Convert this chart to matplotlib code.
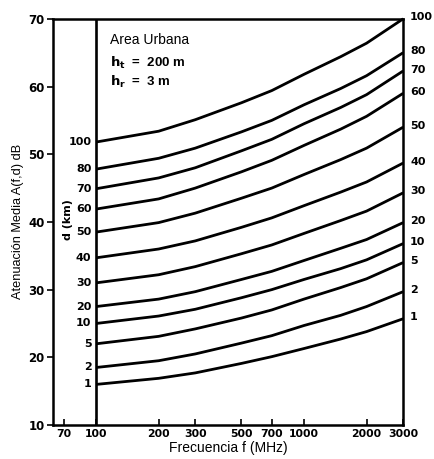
import matplotlib
matplotlib.use('Agg')
import matplotlib.pyplot as plt
from matplotlib.ticker import FixedLocator, NullLocator, NullFormatter

plt.rcParams['font.family'] = ['Liberation Sans', 'DejaVu Sans']

# frecuencias leidas (MHz) y atenuacion media (dB) para cada distancia d (km)
freq = [100, 200, 300, 500, 700, 1000, 1500, 2000, 3000]
dist = [1, 2, 5, 10, 20, 30, 40, 50, 60, 70, 80, 100]
atten = {
    100: [51.8, 53.4, 55.1, 57.6, 59.4, 61.8, 64.4, 66.4, 70.0],
    80:  [47.8, 49.4, 50.9, 53.3, 55.0, 57.3, 59.7, 61.6, 65.0],
    70:  [44.9, 46.5, 48.0, 50.5, 52.2, 54.5, 56.9, 58.8, 62.3],
    60:  [41.9, 43.4, 45.0, 47.4, 49.1, 51.3, 53.7, 55.6, 59.0],
    50:  [38.5, 39.9, 41.3, 43.5, 45.0, 47.0, 49.2, 50.9, 54.0],
    40:  [34.7, 36.0, 37.2, 39.2, 40.6, 42.4, 44.4, 45.9, 48.7],
    30:  [31.0, 32.2, 33.4, 35.3, 36.6, 38.3, 40.2, 41.6, 44.3],
    20:  [27.5, 28.6, 29.7, 31.5, 32.7, 34.3, 36.1, 37.4, 39.9],
    10:  [25.0, 26.1, 27.1, 28.8, 30.0, 31.5, 33.1, 34.4, 36.8],
    5:   [22.0, 23.1, 24.2, 25.8, 27.0, 28.6, 30.3, 31.6, 34.0],
    2:   [18.5, 19.5, 20.5, 22.1, 23.2, 24.7, 26.2, 27.5, 29.7],
    1:   [16.0, 16.9, 17.7, 19.1, 20.1, 21.3, 22.7, 23.8, 25.7],
}
xticks = [70, 100, 200, 300, 500, 700, 1000, 2000, 3000]
yticks = [10, 20, 30, 40, 50, 60, 70]

num = dict(family='DejaVu Sans', fontweight='bold')  # digitos anchos y gruesos

fig = plt.figure(figsize=(4.34, 4.59), dpi=100)
ax = fig.add_axes([0.122, 0.074, 0.807, 0.885])

for d in dist:
    y = atten[d]
    ax.plot(freq, y, color='black', lw=2.0, clip_on=False, solid_capstyle='butt')
    ax.text(95, y[0], str(d), ha='right', va='center', fontsize=8, **num)
    ax.annotate(str(d), xy=(freq[-1], y[-1]), xytext=(5, 1),
                textcoords='offset points', ha='left', va='center',
                fontsize=8, annotation_clip=False, **num)

ax.axvline(100, color='black', lw=1.9)

ax.set_xscale('log')
ax.set_xlim(62, 3000)
ax.set_ylim(10, 70)
ax.xaxis.set_major_locator(FixedLocator(xticks))
ax.xaxis.set_minor_locator(NullLocator())
ax.xaxis.set_minor_formatter(NullFormatter())
ax.set_xticklabels([str(t) for t in xticks], fontsize=7.8, **num)
ax.set_yticks(yticks)
ax.set_yticklabels([str(t) for t in yticks], fontsize=8.5, **num)
ax.tick_params(axis='x', direction='in', length=4, width=1.2, pad=3)
ax.tick_params(axis='y', direction='out', length=4, width=1.2, pad=2)
for s in ax.spines.values():
    s.set_linewidth(1.8)

ax.set_xlabel('Frecuencia f (MHz)', fontsize=10, labelpad=1)
ax.set_ylabel('Atenuación Media A(f,d) dB', fontsize=9.2, labelpad=3)

ax.text(73.5, 40.3, 'd (km)', rotation=90, ha='center', va='center',
        fontsize=8, **num)
ax.text(117, 66.9, 'Area Urbana', ha='left', va='center', fontsize=10)
ax.text(117, 63.5, r'$\mathbf{h_t}$  =  200 m', ha='left', va='center',
        fontsize=9.5, fontweight='bold')
ax.text(117, 60.7, r'$\mathbf{h_r}$  =  3 m', ha='left', va='center',
        fontsize=9.5, fontweight='bold')

fig.savefig('out.png', dpi=100)
